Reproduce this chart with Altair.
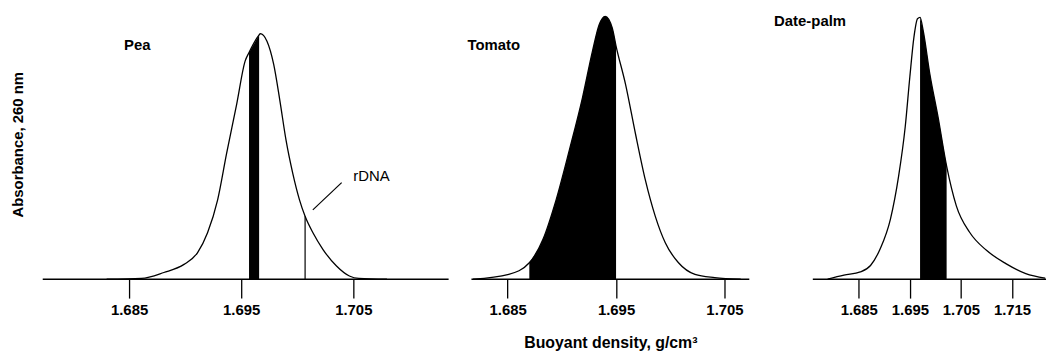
import altair as alt
import pandas as pd

FONT = "Liberation Sans"

# ---- data ----
panel_names = ["Pea", "Tomato", "Date-palm"]

pea_density = [1.6830, 1.6861, 1.6881, 1.6899, 1.6911, 1.6920, 1.6929, 1.6937, 1.6946,
               1.69535, 1.6957, 1.6966, 1.6967, 1.6973, 1.6979, 1.69845, 1.6990, 1.6996,
               1.7002, 1.7007, 1.7014, 1.7023, 1.7035, 1.70465, 1.7055, 1.7080]
pea_abs = [0.0, 0.003, 0.025, 0.055, 0.098, 0.172, 0.294, 0.466, 0.649,
           0.808, 0.840, 0.905, 0.910, 0.882, 0.796, 0.662, 0.515, 0.392,
           0.294, 0.233, 0.172, 0.110, 0.049, 0.012, 0.003, 0.0]
pea_fill = [1.6957, 1.6966]
pea_ticks = [1.685, 1.695, 1.705]
pea_axis_range = [1.6773, 1.7135]
rdna_density = 1.7007
rdna_abs = 0.233
rdna_label = "rDNA"

tomato_density = [1.6818, 1.6851, 1.6870, 1.68825, 1.68947, 1.69069, 1.69191, 1.69283,
                  1.69344, 1.6940, 1.69465, 1.6950, 1.69587, 1.69679, 1.6977, 1.69862,
                  1.69954, 1.70076, 1.70228, 1.7041, 1.7065]
tomato_abs = [0.0, 0.018, 0.061, 0.147, 0.294, 0.478, 0.674, 0.846,
              0.943, 0.974, 0.931, 0.864, 0.723, 0.539, 0.368, 0.233,
              0.135, 0.061, 0.018, 0.006, 0.0]
tomato_fill = [1.6870, 1.6950]
tomato_ticks = [1.685, 1.695, 1.705]
tomato_axis_range = [1.68166, 1.70729]

palm_density = [1.6789, 1.6821, 1.6853, 1.6873, 1.6892, 1.6912, 1.6928, 1.6941, 1.6950,
                1.6958, 1.6965, 1.6970, 1.6976, 1.6989, 1.7005, 1.7022, 1.7041, 1.7067,
                1.7100, 1.7138, 1.7177, 1.7215]
palm_abs = [0.0, 0.015, 0.027, 0.051, 0.113, 0.223, 0.382, 0.566, 0.750,
            0.897, 0.965, 0.970, 0.922, 0.762, 0.603, 0.419, 0.272, 0.174,
            0.107, 0.058, 0.021, 0.004]
palm_fill = [1.6970, 1.7022]
palm_ticks = [1.685, 1.695, 1.705, 1.715]
palm_axis_range = [1.6760, 1.72166]

x_title = "Buoyant density, g/cm³"
y_title = "Absorbance, 260 nm"

PLOT_H = 272
GAP = 23


def panel(name, dens, absb, fill, axis_range, ticks, width, label_x, label_y,
          left_pad=0.0, show_y=False, show_xtitle=False, extra_layers=()):
    df = pd.DataFrame({"density": dens, "absorbance": absb})
    domain = [axis_range[0] - left_pad, axis_range[1]]
    common = dict(values=ticks, format=".3f", grid=False, domain=False)
    if show_xtitle:
        xaxis = alt.Axis(title=x_title, titleFontSize=16, titleFont=FONT,
                         titleFontWeight="bold", titleColor="black", titlePadding=17, **common)
    else:
        xaxis = alt.Axis(title=None, **common)
    x = alt.X("density:Q", scale=alt.Scale(domain=domain, nice=False, zero=False), axis=xaxis)
    if show_y:
        yaxis = alt.Axis(title=y_title, domain=False, ticks=False, labels=False, grid=False,
                         titleFontSize=15, titleFont=FONT, titleFontWeight="bold",
                         titleColor="black", titlePadding=17)
    else:
        yaxis = None
    y = alt.Y("absorbance:Q", scale=alt.Scale(domain=[0, 1], nice=False), axis=yaxis)

    base = alt.Chart(df).encode(x=x, y=y)
    area = base.transform_filter(
        alt.FieldRangePredicate(field="density", range=fill)
    ).mark_area(color="black", interpolate="monotone")
    line = base.mark_line(color="black", strokeWidth=1.3, interpolate="monotone")
    baseline = alt.Chart(pd.DataFrame({"a": [axis_range[0]], "b": [axis_range[1]], "z": [0.0]})
                         ).mark_rule(color="black", strokeWidth=1.3).encode(
        x="a:Q", x2="b:Q", y="z:Q")
    label = alt.Chart(pd.DataFrame({"name": [name]})).mark_text(
        align="left", baseline="middle", font=FONT, fontSize=15, fontWeight="bold", color="black"
    ).encode(x=alt.value(label_x), y=alt.value(label_y), text="name:N")
    layers = [area, line, baseline] + list(extra_layers) + [label]
    return alt.layer(*layers).properties(width=width, height=PLOT_H)


# rDNA annotation for the pea panel
rdna_df = pd.DataFrame({"density": [rdna_density], "lo": [0.0], "hi": [rdna_abs]})
rdna_rule = alt.Chart(rdna_df).mark_rule(color="black", strokeWidth=1.2).encode(
    x="density:Q", y="lo:Q", y2="hi:Q")
leader_df = pd.DataFrame({"x1": [1.70139], "x2": [1.70396], "y1": [0.257], "y2": [0.358]})
leader = alt.Chart(leader_df).mark_rule(color="black", strokeWidth=1.2).encode(
    x="x1:Q", x2="x2:Q", y="y1:Q", y2="y2:Q")
rdna_text_df = pd.DataFrame({"density": [1.7050], "absorbance": [0.382], "t": [rdna_label]})
rdna_text = alt.Chart(rdna_text_df).mark_text(
    align="left", baseline="middle", font=FONT, fontSize=15, color="black"
).encode(x="density:Q", y="absorbance:Q", text="t:N")

# palm panel: plot area starts 64 px after tomato; extra 41 px of empty scale on its left
PALM_PX_PER_UNIT = 235 / (palm_axis_range[1] - palm_axis_range[0])
palm_extra = 64 - GAP

pea = panel(panel_names[0], pea_density, pea_abs, pea_fill, pea_axis_range, pea_ticks, 409,
            82, 36, show_y=True, extra_layers=(rdna_rule, leader, rdna_text))
tomato = panel(panel_names[1], tomato_density, tomato_abs, tomato_fill, tomato_axis_range,
               tomato_ticks, 280, -4, 36, show_xtitle=True)
palm = panel(panel_names[2], palm_density, palm_abs, palm_fill, palm_axis_range, palm_ticks,
             235 + palm_extra, palm_extra - 39, 12, left_pad=palm_extra / PALM_PX_PER_UNIT)

chart = alt.hconcat(pea, tomato, palm, spacing=GAP, bounds="flush").properties(
    padding={"left": 3, "top": 0, "right": 0, "bottom": 0},
    background="white",
).configure_view(stroke=None).configure_axis(
    tickColor="black", tickWidth=1.3, tickSize=19,
    labelFont=FONT, labelFontSize=15, labelFontWeight="bold", labelColor="black",
    labelPadding=5, grid=False,
)

chart.save("out.html", embed_options={"renderer": "svg", "actions": False})
